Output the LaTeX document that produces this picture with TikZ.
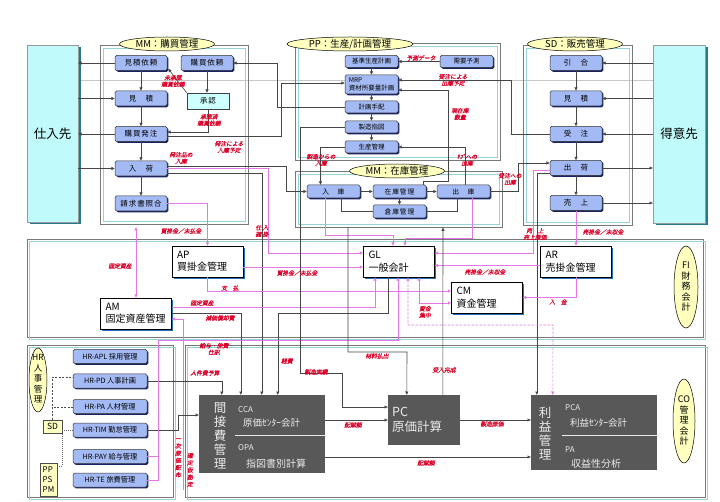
\documentclass[tikz,border=0pt]{standalone}
\usepackage{fontspec}
\setmainfont{Noto Sans CJK JP}
\newfontfamily\jpi[FakeSlant=0.2,FakeBold=0.6]{Noto Sans CJK JP}
\newfontfamily\jpw[LetterSpace=12]{Noto Sans CJK JP}
\usetikzlibrary{arrows.meta,shadows,shapes.geometric}
\pgfdeclarelayer{bg}
\pgfsetlayers{bg,main}
\definecolor{boxblue}{RGB}{164,186,244}
\definecolor{boxshadow}{RGB}{25,35,100}
\definecolor{cyanlt}{RGB}{205,255,255}
\definecolor{cyanbox}{RGB}{192,250,250}
\definecolor{cyanshadow}{RGB}{40,120,140}
\definecolor{fishadow}{RGB}{40,110,190}
\definecolor{cofill}{RGB}{88,88,88}
\definecolor{cotext}{RGB}{235,235,235}
\definecolor{yellowbox}{RGB}{255,255,195}
\definecolor{ellfill}{RGB}{255,255,190}
\definecolor{panelgray}{RGB}{120,120,120}
\definecolor{panelcyan}{RGB}{150,210,215}
\definecolor{darkln}{RGB}{70,70,70}
\definecolor{pinkln}{RGB}{230,120,230}
\definecolor{labred}{RGB}{220,0,40}
\newcommand\myfs[2]{\fontsize{#1}{#2}\selectfont}
\tikzset{
 bb/.style={draw=black!80,line width=0.5pt,fill=boxblue,rounded corners=1.5pt,minimum width=52pt,minimum height=15pt,inner sep=0pt,font=\jpw\myfs{7.5}{8},drop shadow={shadow xshift=1.3pt,shadow yshift=-1.3pt,fill=boxshadow,opacity=1}},
 pb/.style={bb,minimum width=53pt,minimum height=12pt,font=\myfs{6.5}{7.4}},
 zb/.style={bb,minimum width=53pt,minimum height=13pt,font=\jpw\myfs{6.8}{7.5}},
 hb/.style={bb,minimum width=74pt,minimum height=14pt,font=\myfs{7.2}{8}},
 cb/.style={draw=black!75,line width=0.5pt,fill=cyanlt,minimum width=42pt,minimum height=16pt,inner sep=0pt,font=\jpw\myfs{7.5}{8}},
 big/.style={draw=black!40,line width=0.4pt,fill=cyanbox,inner sep=0pt,font=\myfs{12.5}{14},drop shadow={shadow xshift=2.5pt,shadow yshift=-2.5pt,fill=cyanshadow,opacity=1}},
 fb/.style={draw=black,line width=0.6pt,fill=white,minimum height=31pt,inner xsep=5pt,inner ysep=0pt,align=left,text width=61pt,font=\myfs{10}{12.5},drop shadow={shadow xshift=1.8pt,shadow yshift=-1.8pt,fill=fishadow,opacity=1}},
 cob/.style={fill=cofill,draw=none,inner sep=0pt},
 cot/.style={text=cotext,inner sep=0pt,align=left},
 yb/.style={draw=black!70,line width=0.4pt,fill=yellowbox,inner sep=0pt},
 el/.style={ellipse,draw=black,line width=0.5pt,fill=ellfill,inner sep=0pt},
 panelo/.style={draw=panelgray,line width=0.8pt},
 paneli/.style={draw=panelcyan,line width=0.8pt},
 ar/.style={draw=darkln,line width=0.6pt,-{Triangle[length=3.3pt,width=3pt]}},
 ln/.style={draw=darkln,line width=0.6pt},
 pk/.style={draw=pinkln,line width=0.6pt,-{Triangle[length=3.3pt,width=3pt]}},
 pkb/.style={draw=pinkln,line width=0.6pt,{Triangle[length=3.3pt,width=3pt]}-{Triangle[length=3.3pt,width=3pt]}},
 pkl/.style={draw=pinkln,line width=0.6pt},
 pkd/.style={pkb,dash pattern=on 2.5pt off 1.5pt},
 dsh/.style={draw=black!70,line width=0.6pt,dash pattern=on 2pt off 1.5pt},
 dotln/.style={draw=black!60,line width=0.6pt,dash pattern=on 0.8pt off 1.2pt},
 lb/.style={text=labred,font=\jpi\myfs{5.8}{6.6},align=center,inner sep=0pt},
 lbv/.style={lb,font=\jpi\myfs{5.8}{7.2}},
}
\begin{document}
\begin{tikzpicture}[x=1pt,y=-1pt]
\useasboundingbox (0,0) rectangle (720,502);
\fill[white] (0,0) rectangle (720,502);
% faint scan line
\draw[black!22,line width=0.6pt] (27,80) -- (653,80);
% panels
\draw[panelo] (100,45) rectangle (248,224);
\draw[paneli] (103,48) rectangle (245,221);
\draw[panelo] (295,43) rectangle (500,160);
\draw[paneli] (298,46) rectangle (497,157);
\draw[panelo] (295,171) rectangle (502,227);
\draw[paneli] (298,174) rectangle (499,224);
\draw[panelo] (523,45) rectangle (632,225);
\draw[paneli] (526,48) rectangle (629,222);
\draw[panelo] (27,239) rectangle (703,337);
\draw[paneli] (29,241) rectangle (705,339);
\draw[panelo] (27,345) rectangle (173,497);
\draw[paneli] (29,347) rectangle (175,499);
\draw[panelo] (185,345) rectangle (705,497);
\draw[paneli] (187,347) rectangle (707,499);
% big partner boxes
\node[big,minimum width=51pt,minimum height=177pt] (shiire) at (52.5,133.5) {仕入先};
\node[big,minimum width=52pt,minimum height=178pt] (tokui) at (679,134) {得意先};
% ellipses
\node[el,minimum width=95pt,minimum height=14pt,font=\myfs{9.5}{10}] (elmm) at (167,44) {MM：購買管理};
\node[el,minimum width=126pt,minimum height=14pt,font=\myfs{9.5}{10}] (elpp) at (350,44) {PP：生産/計画管理};
\node[el,minimum width=95pt,minimum height=14pt,font=\myfs{9.5}{10}] (elmz) at (397,171) {MM：在庫管理};
\node[el,minimum width=95pt,minimum height=14pt,font=\myfs{9.5}{10}] (elsd) at (575,44) {SD：販売管理};
\node[el,minimum width=24pt,minimum height=82pt] (elfi) at (686,287) {};
\node[font=\myfs{9}{10.5},align=center,inner sep=0pt] (elfit) at (686,287) {FI\\財\\務\\会\\計};
\node[el,minimum width=22pt,minimum height=84pt] (elco) at (684,421) {};
\node[font=\myfs{9}{10.5},align=center,inner sep=0pt] (elcot) at (684,421) {CO\\管\\理\\会\\計};
\node[el,minimum width=18pt,minimum height=64pt] (elhr) at (38,380) {};
\node[font=\myfs{8.5}{10.5},align=center,inner sep=0pt] (elhrt) at (38,379) {HR\\人\\事\\管\\理};
% MM purchasing
\node[bb] (mirai) at (141,63) {見積依頼};
\node[bb] (kirai) at (207,63) {購買依頼};
\node[bb] (mitsu) at (141,98.5) {見　積};
\node[cb] (shonin) at (208,101) {承認};
\node[bb] (hacchu) at (141,134) {購買発注};
\node[bb] (nyuka) at (141,168.5) {入　荷};
\node[bb] (seikyu) at (141,203.5) {請求書照合};
% PP
\node[pb] (kijun) at (371.5,61.5) {基準生産計画};
\node[pb] (juyo) at (466.5,61.5) {需要予測};
\node[pb,minimum height=19pt,align=left] (mrp) at (371.5,84.5) {MRP\\資材所要量計画};
\node[pb] (tehai) at (371.5,107) {計画手配};
\node[pb] (shizu) at (371.5,127) {製造指図};
\node[pb] (seisan) at (371.5,147) {生産管理};
% MM inventory
\node[zb] (nyuko) at (333.5,191.5) {入　庫};
\node[zb] (zaiko) at (399.5,191.5) {在庫管理};
\node[zb] (shukko) at (463.5,191.5) {出　庫};
\node[zb] (souko) at (399.5,211.5) {倉庫管理};
% SD
\node[bb] (hikiai) at (576,63) {引　合};
\node[bb] (smitsu) at (576,98.5) {見　積};
\node[bb] (juchu) at (576,134) {受　注};
\node[bb] (shukka) at (576,168) {出　荷};
\node[bb] (uriage) at (576,203) {売　上};
% FI
\node[fb] (ap) at (207.5,261.5) {AP\\買掛金管理};
\node[fb] (am) at (136,313.5) {AM\\固定資産管理};
\node[fb] (gl) at (399,261.5) {GL\\一般会計};
\node[fb] (cm) at (487,297.5) {CM\\資金管理};
\node[fb] (ar) at (576,261.5) {AR\\売掛金管理};
% CO
\node[cob,minimum width=126pt,minimum height=78pt] (kan) at (262,434) {};
\node[cob,minimum width=72pt,minimum height=50pt] (pc) at (424,420) {};
\node[cob,minimum width=126pt,minimum height=75pt] (rie) at (594,432.5) {};
\draw[cotext,line width=0.6pt] (235,435) -- (kan.east |- 0,435);
\draw[cotext,line width=0.6pt] (562,435) -- (rie.east |- 0,435);
\node[cot,align=center,font=\myfs{12.5}{14}] (kanv) at (220,436) {間\\接\\費\\管\\理};
\node[cot,anchor=west,font=\myfs{8}{9}] (cca) at (238,410) {CCA};
\node[cot,anchor=west,font=\myfs{9.5}{11}] (ccan) at (243,423) {原価ｾﾝﾀｰ会計};
\node[cot,anchor=west,font=\myfs{8}{9}] (opa) at (238,448) {OPA};
\node[cot,anchor=west,font=\myfs{10}{11}] (opan) at (246,464) {指図書別計算};
\node[cot,anchor=west,font=\myfs{12.5}{15}] (pct) at (392,420) {PC\\原価計算};
\node[cot,align=center,font=\myfs{12.5}{14}] (riev) at (545,434) {利\\益\\管\\理};
\node[cot,anchor=west,font=\myfs{8}{9}] (pca) at (565,408) {PCA};
\node[cot,anchor=west,font=\myfs{9.5}{11}] (pcan) at (570,423) {利益ｾﾝﾀｰ会計};
\node[cot,anchor=west,font=\myfs{8}{9}] (pa) at (565,450) {PA};
\node[cot,anchor=west,font=\myfs{10}{11}] (pan) at (571,464) {収益性分析};
% HR
\node[hb] (hrapl) at (110,356.5) {HR-APL\ 採用管理};
\node[hb] (hrpd) at (110,381) {HR-PD\ 人事計画};
\node[hb] (hrpa) at (110,406.5) {HR-PA\ 人材管理};
\node[hb] (hrtim) at (110,430) {HR-TIM\ 勤怠管理};
\node[hb] (hrpay) at (110,456.5) {HR-PAY\ 給与管理};
\node[hb] (hrte) at (110,480) {HR-TE\ 旅費管理};
\node[yb,minimum width=19pt,minimum height=13pt,font=\myfs{8.5}{9}] (sdbox) at (52.5,426.5) {SD};
\node[yb,minimum width=17pt,minimum height=33pt,align=left,font=\myfs{8}{10}] (ppbox) at (48.5,479.5) {PP\\PS\\PM};
\coordinate (mzb) at (348,227);
\coordinate (mzc) at (443,227.5);
\coordinate (mmb) at (136,227);
\coordinate (kkb) at (183,490);
% background connectors
\begin{pgfonlayer}{bg}
\draw[ln] (hrapl.south) -- (hrte.north);
\end{pgfonlayer}
% ---- MM purchasing connectors
\draw[ar] (mirai.west) -- (mirai.west -| shiire.east);
\draw[ar] (mitsu.west -| shiire.east) -- (mitsu.west);
\draw[ar] (hacchu.west) -- (hacchu.west -| shiire.east);
\draw[ar] (nyuka.west -| shiire.east) -- (nyuka.west);
\draw[ar] (mirai.south) -- (mitsu.north);
\draw[ar] (mitsu.south) -- (hacchu.north);
\draw[ar] (hacchu.south) -- (nyuka.north);
\draw[ar] (nyuka.south) -- (seikyu.north);
\draw[ar] (kirai.south) -- (kirai.south |- shonin.north);
\draw[ar] (shonin.south) |- ([yshift=2pt]hacchu.east);
\draw[ar] (shonin.north west) -- ([xshift=1pt,yshift=2pt]mirai.south east);
\draw[ar] (tehai.west) -- (277,107) |- (kirai.east);
\draw[ar] ([yshift=-2pt]hacchu.east) -- (281,136) |- ([yshift=1.5pt]mrp.west);
\draw[ar] ([yshift=2.5pt]nyuka.east) -- (286,166) |- (nyuko.west);
\draw[pk] (nyuka.east) -- (268,168.5) |- ([yshift=8.5pt]gl.west);
\draw[ar] ([yshift=-4.5pt]nyuka.east) -| ([xshift=63pt]kan.north west);
% ---- PP connectors
\draw[ar] (juyo.west) -- (kijun.east);
\draw[ar] (kijun.south) -- (mrp.north);
\draw[ar] (mrp.south) -- (tehai.north);
\draw[ar] (tehai.south) -- (shizu.north);
\draw[ar] (shizu.south) -- (seisan.north);
\draw[ar] (seisan.west) -| ([xshift=-13pt]nyuko.north);
\draw[ar] ([xshift=2pt]shukko.north) |- (seisan.east);
\draw[ar] ([xshift=24pt]zaiko.north) -- (423.5,181) -| (448,90) -- ([yshift=-5.5pt]mrp.east);
\draw[ar] (juchu.west) -| (511,80) -- ([yshift=4.5pt]mrp.east);
% ---- MM inventory
\draw[ar] (nyuko.east) -- (zaiko.west);
\draw[ar] (zaiko.east) -- (shukko.west);
\draw[ar] (zaiko.south) -- (souko.north);
\draw[ln] ([xshift=8pt]nyuko.south) |- (souko.west);
\draw[ln] ([xshift=-6pt]shukko.south) |- (souko.east);
\draw[ar] (shukko.east) -- (518,191.5) |- ([yshift=5pt]shukka.west);
\draw[pk] ([xshift=-8pt]nyuko.south) |- (393,235) -- ([xshift=-6pt]gl.north);
\draw[pk] ([xshift=9pt]shukko.south) |- (405,238) -- ([xshift=6pt]gl.north);
% ---- SD
\draw[ar] (hikiai.east -| tokui.west) -- (hikiai.east);
\draw[ar] (smitsu.east -| tokui.west) -- (smitsu.east);
\draw[ar] (juchu.east -| tokui.west) -- (juchu.east);
\draw[ar] (shukka.east) -- (shukka.east -| tokui.west);
\draw[ar] (uriage.east) -- (uriage.east -| tokui.west);
\draw[ar] (hikiai.south) -- (smitsu.north);
\draw[ar] (smitsu.south) -- (juchu.north);
\draw[ar] (juchu.south) -- (shukka.north);
\draw[ar] (shukka.south) -- (uriage.north);
\draw[ar] ([yshift=-5pt]shukka.west) -| ([xshift=6pt]rie.north west);
\draw[pk] ([yshift=-2pt]shukka.west) -| (533,253) -- ([yshift=8.5pt]gl.east);
% ---- FI
\draw[pk] (seikyu.east) -| (ap.north);
\draw[pkb] (am.north) -- (mmb);
\draw[pk] ([yshift=-5.5pt]ap.east) -- ([yshift=-5.5pt]gl.west);
\draw[pk] (ap.south) |- ([yshift=6.5pt]cm.west);
\draw[pkb] ([xshift=20pt]gl.south) |- ([yshift=-5.5pt]cm.west);
\draw[pkd] ([xshift=9pt]gl.south) |- (553,325) -- ([xshift=22pt]rie.north west);
\draw[pk] (uriage.south) -- (ar.north);
\draw[pk] ([yshift=-4pt]ar.west) -- ([yshift=-4pt]gl.east);
\draw[pk] (ar.south) |- (cm.east);
\draw[pk] ([yshift=6pt]am.east) -| ([xshift=-24pt]gl.south);
\draw[ar] (am.east) -| ([xshift=42pt]kan.north west);
\draw[ar] ([xshift=-11pt]gl.south) -- (388,313) -| ([xshift=79pt]kan.north west);
\draw[pk] (kkb) |- ([yshift=-5.5pt]am.east);
% ---- HR / CO
\draw[ar] (hrpd.east) -| ([xshift=23pt]kan.north west);
\draw[ar] (hrtim.east) -- (178,430) |- ([yshift=19pt]kan.west);
\draw[pk] (hrpay.east) -| (158,340) -| ([xshift=-1pt]gl.south);
\draw[pkl] (hrte.east) -| (158,456.5);
\draw[dsh] (sdbox.north) |- ([yshift=4pt]hrpd.west);
\draw[dsh] (sdbox.north) |- ([yshift=-0.5pt]hrpa.west);
\draw[dotln] (sdbox.east |- hrtim.west) -- (hrtim.west);
\draw[dotln] ([yshift=-3pt]ppbox.north east) -| (sdbox.south east);
\draw[ar] (shizu.west) -| (300,373) -- (342,373) |- ([yshift=13pt]pc.west);
\draw[ar] (mzb) |- (407,352) -- ([xshift=19pt]pc.north west);
\draw[ar] ([xshift=55pt]pc.north west) -- (mzc);
\draw[ar] (pc.west -| kan.east) -- (pc.west);
\draw[ar] (pc.east) -- (pc.east -| rie.west);
\draw[ar] ([yshift=-23pt]kan.east) -- ([yshift=-23pt]kan.east -| rie.west);
% ---- labels
\node[lb] (t1) at (173,81) {未承認\\購買依頼};
\node[lb] (t2) at (209,120) {承認済\\購買依頼};
\node[lb] (t3) at (229,147) {発注による\\入庫予定};
\node[lb] (t4) at (181,158) {発注品の\\入庫};
\node[lb] (t5) at (421,58) {予測データ};
\node[lb] (t6) at (453,80) {受注による\\出庫予定};
\node[lb] (t7) at (460,114) {現在庫\\数量};
\node[lb] (t8) at (321,160) {製造からの\\入庫};
\node[lb] (t9) at (467,160) {ｻﾌﾞへの\\出庫};
\node[lb] (t10) at (510,179) {受注への\\出庫};
\node[lb] (t11) at (262,231) {仕 入\\諸 掛};
\node[lb] (t12) at (181,231) {買掛金／未払金};
\node[lb] (t13) at (120,266) {固定資産};
\node[lb] (t14) at (297,273) {買掛金／未払金};
\node[lb] (t15) at (230,288) {支　払};
\node[lb] (t16) at (202,303) {固定資産};
\node[lb] (t17) at (220,318) {減価償却費};
\node[lb] (t18) at (425,312) {資金\\集中};
\node[lb] (t19) at (535,234) {売　上\\売上原価};
\node[lb] (t20) at (603,232) {売掛金／未収金};
\node[lb] (t21) at (485,272) {売掛金／未収金};
\node[lb] (t22) at (558,302) {入　金};
\node[lb] (t23) at (214,349) {給与・旅費\\仕訳};
\node[lb] (t24) at (205,373) {人件費予算};
\node[lb] (t25) at (287,361) {経費};
\node[lb] (t26) at (316,372) {製造実績};
\node[lb] (t27) at (377,356) {材料払出};
\node[lb] (t28) at (444,370) {受入完成};
\node[lb] (t29) at (353,425) {配賦額};
\node[lb] (t30) at (426,463) {配賦額};
\node[lb] (t31) at (492,424) {製造原価};
\node[lbv] (t32) at (178,458) {一\\次\\原\\価\\配\\布};
\node[lbv] (t33) at (190,470) {確\\定\\仮\\勘\\定};
\end{tikzpicture}
\end{document}
